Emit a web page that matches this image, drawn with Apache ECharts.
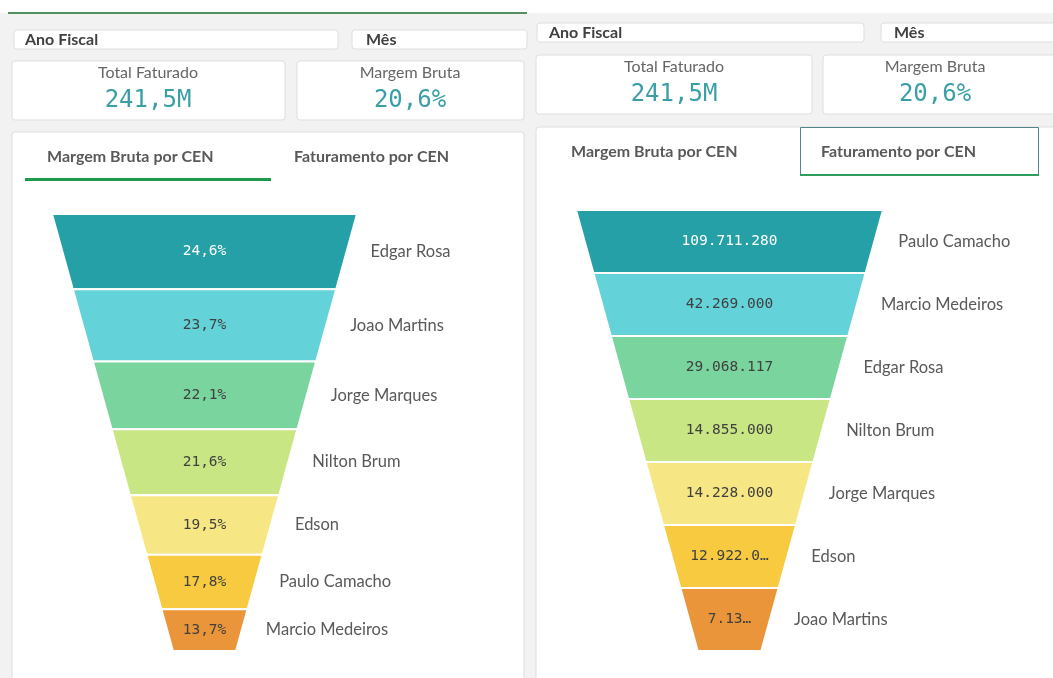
<!DOCTYPE html>
<html>
<head>
<meta charset="utf-8">
<script src="https://cdn.jsdelivr.net/npm/echarts@6/dist/echarts.min.js"></script>
<style>
    html, body { margin: 0; padding: 0; background: #fff; }
    #main { width: 1053px; height: 678px; }
</style>
</head>
<body>
<div id="main"></div>
<script>
// margem bruta por CEN (left funnel, heights follow the value)
var margemNames = ["Edgar Rosa", "Joao Martins", "Jorge Marques", "Nilton Brum", "Edson", "Paulo Camacho", "Marcio Medeiros"];
var margemValues = [24.6, 23.7, 22.1, 21.6, 19.5, 17.8, 13.7];

// faturamento por CEN (right funnel, equal heights)
var fatNames = ["Paulo Camacho", "Marcio Medeiros", "Edgar Rosa", "Nilton Brum", "Jorge Marques", "Edson", "Joao Martins"];
var fatValues = [109711280, 42269000, 29068117, 14855000, 14228000, 12922000, 7130000];

// KPI texts
var kpiTitles = ["Total Faturado", "Margem Bruta"];
var kpiValues = ["241,5M", "20,6%"];
var tabLabels = ["Margem Bruta por CEN", "Faturamento por CEN"];
var filterLabels = ["Ano Fiscal", "Mês"];

var funnelColors = ["#26a0a7", "#63d2d9", "#79d49e", "#c8e683", "#f7e784", "#f8ca40", "#ea9539"];
var neck = 0.207; // bottom width / top width

function fmtPct(v) {
    return v.toFixed(1).replace(".", ",") + "%";
}
function fmtNum(v) {
    return Math.round(v).toString().replace(/\B(?=(\d{3})+(?!\d))/g, ".");
}

function stackData(values, byValue) {
    var out = [];
    var acc = 0;
    for (var i = 0; i < values.length; i++) {
        var h = byValue ? values[i] : 1;
        out.push([acc, acc + h, values[i], i]);
        acc += h;
    }
    return out;
}

var margemData = stackData(margemValues, true);
var fatData = stackData(fatValues, false);
var margemTotal = margemData[margemData.length - 1][1];
var fatTotal = fatData[fatData.length - 1][1];

function makeRender(total, names, fmt) {
    return function (params, api) {
        var y0 = api.value(0);
        var y1 = api.value(1);
        var idx = api.value(3);
        var half = function (y) {
            return 1 - (1 - neck) * y / total;
        };
        var pts = [
            api.coord([-half(y0), y0]),
            api.coord([half(y0), y0]),
            api.coord([half(y1), y1]),
            api.coord([-half(y1), y1]),
        ];
        var mid = (y0 + y1) / 2;
        var c = api.coord([0, mid]);
        var r = api.coord([half(mid), mid]);
        var bw = pts[2][0] - pts[3][0];
        return {
            type: "group",
            children: [
                {
                    type: "polygon",
                    shape: { points: pts },
                    style: { fill: funnelColors[idx], stroke: "#fff", lineWidth: 2 },
                },
                {
                    type: "text",
                    x: c[0],
                    y: c[1],
                    style: {
                        text: fmt(api.value(2)),
                        fill: idx === 0 ? "#ffffff" : "#404040",
                        font: '14.5px "DejaVu Sans Mono"',
                        align: "center",
                        verticalAlign: "middle",
                        width: bw - 18,
                        overflow: "truncate",
                        ellipsis: "…",
                    },
                },
                {
                    type: "text",
                    x: r[0] + 24,
                    y: r[1],
                    style: {
                        text: names[idx],
                        fill: "#595959",
                        font: '16.5px Lato',
                        align: "left",
                        verticalAlign: "middle",
                    },
                },
            ],
        };
    };
}

function box(x, y, w, h) {
    return {
        type: "rect",
        shape: { x: x, y: y, width: w, height: h, r: 3 },
        style: { fill: "#fff", stroke: "#dedede", lineWidth: 1 },
    };
}
function txt(x, y, s, font, color, align) {
    return {
        type: "text",
        x: x,
        y: y,
        style: { text: s, font: font, fill: color, align: align || "left", verticalAlign: "middle" },
    };
}

var graphics = [
    // background
    { type: "rect", shape: { x: 0, y: 13, width: 1053, height: 665 }, style: { fill: "#f2f2f2" } },
    { type: "rect", shape: { x: 8, y: 12, width: 519, height: 2 }, style: { fill: "#52905f" } },

    // left sheet
    box(14, 30, 324, 19),
    txt(25, 40, filterLabels[0], 'bold 16px Lato', "#404040"),
    box(352, 30, 175, 19),
    txt(366, 40, filterLabels[1], 'bold 16px Lato', "#404040"),
    box(12, 61, 273, 59),
    txt(148, 73, kpiTitles[0], '16px Lato', "#666", "center"),
    txt(148, 101, kpiValues[0], '24px "DejaVu Sans Mono"', "#3a9fa5", "center"),
    box(297, 61, 227, 59),
    txt(410, 73, kpiTitles[1], '16px Lato', "#666", "center"),
    txt(410, 101, kpiValues[1], '24px "DejaVu Sans Mono"', "#3a9fa5", "center"),
    box(12, 132, 512, 580),
    txt(47, 157, tabLabels[0], 'bold 16px Lato', "#595959"),
    txt(294, 157, tabLabels[1], 'bold 16px Lato', "#595959"),
    { type: "rect", shape: { x: 25, y: 178, width: 246, height: 3 }, style: { fill: "#1e9a4c" } },

    // right sheet
    box(537, 23, 327, 19),
    txt(549, 33, filterLabels[0], 'bold 16px Lato', "#404040"),
    box(881, 23, 180, 19),
    txt(894, 33, filterLabels[1], 'bold 16px Lato', "#404040"),
    box(536, 55, 276, 59),
    txt(674, 67, kpiTitles[0], '16px Lato', "#666", "center"),
    txt(674, 95, kpiValues[0], '24px "DejaVu Sans Mono"', "#3a9fa5", "center"),
    box(823, 55, 240, 59),
    txt(935, 67, kpiTitles[1], '16px Lato', "#666", "center"),
    txt(935, 95, kpiValues[1], '24px "DejaVu Sans Mono"', "#3a9fa5", "center"),
    box(536, 127, 530, 580),
    txt(571, 152, tabLabels[0], 'bold 16px Lato', "#595959"),
    txt(821, 152, tabLabels[1], 'bold 16px Lato', "#595959"),
    {
        type: "rect",
        shape: { x: 800.5, y: 127.5, width: 238, height: 47 },
        style: { fill: "none", stroke: "#4f858b", lineWidth: 1 },
    },
    { type: "rect", shape: { x: 800, y: 174, width: 239, height: 2 }, style: { fill: "#2f9e5c" } },
];

var option = {
    animation: false,
    graphic: graphics,
    grid: [
        { left: 52, top: 214, width: 305, height: 437 },
        { left: 576, top: 210, width: 307, height: 441 },
    ],
    xAxis: [
        { type: "value", gridIndex: 0, min: -1, max: 1, show: false },
        { type: "value", gridIndex: 1, min: -1, max: 1, show: false },
    ],
    yAxis: [
        { type: "value", gridIndex: 0, min: 0, max: margemTotal, inverse: true, show: false },
        { type: "value", gridIndex: 1, min: 0, max: fatTotal, inverse: true, show: false },
    ],
    series: [
        {
            type: "custom",
            xAxisIndex: 0,
            yAxisIndex: 0,
            encode: { y: [0, 1] },
            renderItem: makeRender(margemTotal, margemNames, fmtPct),
            data: margemData,
        },
        {
            type: "custom",
            xAxisIndex: 1,
            yAxisIndex: 1,
            encode: { y: [0, 1] },
            renderItem: makeRender(fatTotal, fatNames, fmtNum),
            data: fatData,
        },
    ],
};

var myChart = echarts.init(document.getElementById("main"));
myChart.setOption(option);
</script>
</body>
</html>
